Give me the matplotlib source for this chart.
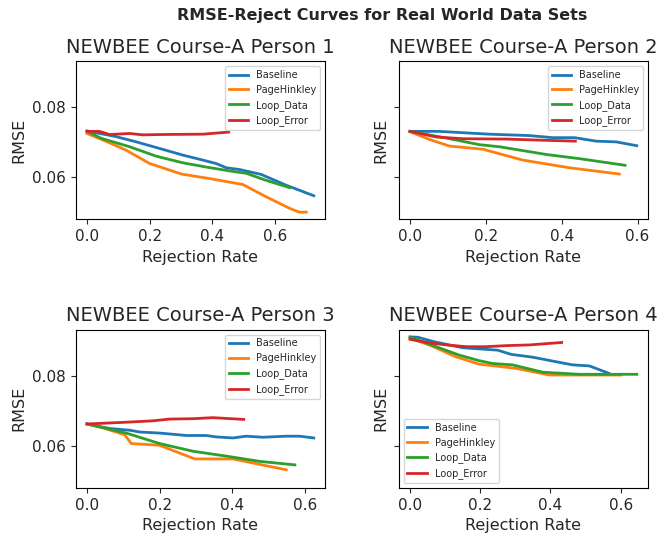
import matplotlib
matplotlib.use("Agg")
import matplotlib.pyplot as plt

# Data
titles = ["NEWBEE Course-A Person 1", "NEWBEE Course-A Person 2",
          "NEWBEE Course-A Person 3", "NEWBEE Course-A Person 4"]
methods = ["Baseline", "PageHinkley", "Loop_Data", "Loop_Error"]

# Person 1
p1_base_x = [0.0, 0.088, 0.157, 0.232, 0.306, 0.369, 0.412, 0.444, 0.486, 0.555, 0.635, 0.723]
p1_base_y = [0.0732, 0.0717, 0.0701, 0.0682, 0.0663, 0.0649, 0.0639, 0.0627, 0.0622, 0.0608, 0.0577, 0.0547]
p1_ph_x = [0.0, 0.046, 0.083, 0.125, 0.200, 0.301, 0.391, 0.497, 0.571, 0.646, 0.677, 0.699]
p1_ph_y = [0.0725, 0.0708, 0.0694, 0.0677, 0.0639, 0.0609, 0.0596, 0.0579, 0.0544, 0.0511, 0.0500, 0.0500]
p1_ld_x = [0.0, 0.046, 0.136, 0.221, 0.306, 0.380, 0.454, 0.508, 0.571, 0.646]
p1_ld_y = [0.0731, 0.0711, 0.0687, 0.0660, 0.0641, 0.0629, 0.0618, 0.0611, 0.0591, 0.0570]
p1_le_x = [0.0, 0.040, 0.072, 0.136, 0.178, 0.232, 0.369, 0.452]
p1_le_y = [0.0731, 0.0731, 0.0722, 0.0725, 0.0721, 0.0722, 0.0723, 0.0729]

# Person 2
p2_base_x = [0.0, 0.077, 0.209, 0.315, 0.376, 0.434, 0.491, 0.544, 0.598]
p2_base_y = [0.0731, 0.0731, 0.0723, 0.0719, 0.0713, 0.0713, 0.0703, 0.0701, 0.0690]
p2_ph_x = [0.0, 0.051, 0.104, 0.192, 0.297, 0.420, 0.552]
p2_ph_y = [0.0730, 0.0708, 0.0689, 0.0680, 0.0649, 0.0627, 0.0609]
p2_ld_x = [0.0, 0.095, 0.183, 0.236, 0.359, 0.447, 0.567]
p2_ld_y = [0.0731, 0.0712, 0.0693, 0.0687, 0.0665, 0.0653, 0.0634]
p2_le_x = [0.0, 0.069, 0.139, 0.253, 0.341, 0.436]
p2_le_y = [0.0731, 0.0715, 0.0710, 0.0709, 0.0706, 0.0703]

# Person 3
p3_base_x = [0.0, 0.063, 0.118, 0.145, 0.200, 0.274, 0.329, 0.356, 0.402, 0.439, 0.485, 0.549, 0.586, 0.625]
p3_base_y = [0.0662, 0.0649, 0.0644, 0.0639, 0.0636, 0.0629, 0.0629, 0.0625, 0.0622, 0.0627, 0.0624, 0.0627, 0.0627, 0.0622]
p3_ph_x = [0.0, 0.044, 0.104, 0.122, 0.200, 0.297, 0.402, 0.549]
p3_ph_y = [0.0662, 0.0651, 0.0631, 0.0606, 0.0601, 0.0562, 0.0562, 0.0531]
p3_ld_x = [0.0, 0.053, 0.108, 0.200, 0.292, 0.384, 0.476, 0.573]
p3_ld_y = [0.0662, 0.0649, 0.0636, 0.0606, 0.0584, 0.0570, 0.0555, 0.0545]
p3_le_x = [0.0, 0.044, 0.108, 0.182, 0.228, 0.292, 0.347, 0.432]
p3_le_y = [0.0662, 0.0664, 0.0667, 0.0671, 0.0676, 0.0677, 0.0680, 0.0675]

# Person 4
p4_base_x = [0.0, 0.022, 0.069, 0.150, 0.250, 0.288, 0.349, 0.416, 0.463, 0.511, 0.566]
p4_base_y = [0.0911, 0.0910, 0.0897, 0.0880, 0.0873, 0.0861, 0.0853, 0.0840, 0.0831, 0.0828, 0.0807]
p4_ph_x = [0.0, 0.055, 0.131, 0.197, 0.302, 0.397, 0.501, 0.601]
p4_ph_y = [0.0907, 0.0888, 0.0854, 0.0833, 0.0821, 0.0802, 0.0802, 0.0802]
p4_ld_x = [0.0, 0.074, 0.140, 0.197, 0.235, 0.292, 0.378, 0.482, 0.646]
p4_ld_y = [0.0910, 0.0883, 0.0859, 0.0843, 0.0835, 0.0831, 0.0810, 0.0804, 0.0804]
p4_le_x = [0.0, 0.055, 0.103, 0.160, 0.217, 0.274, 0.340, 0.432]
p4_le_y = [0.0904, 0.0894, 0.0888, 0.0883, 0.0883, 0.0886, 0.0888, 0.0895]

curves = [
    [(p1_base_x, p1_base_y), (p1_ph_x, p1_ph_y), (p1_ld_x, p1_ld_y), (p1_le_x, p1_le_y)],
    [(p2_base_x, p2_base_y), (p2_ph_x, p2_ph_y), (p2_ld_x, p2_ld_y), (p2_le_x, p2_le_y)],
    [(p3_base_x, p3_base_y), (p3_ph_x, p3_ph_y), (p3_ld_x, p3_ld_y), (p3_le_x, p3_le_y)],
    [(p4_base_x, p4_base_y), (p4_ph_x, p4_ph_y), (p4_ld_x, p4_ld_y), (p4_le_x, p4_le_y)],
]
legend_locs = ["upper right", "upper right", "upper right", "lower left"]

plt.rcParams['text.color'] = '#262626'
plt.rcParams['axes.labelcolor'] = '#262626'
plt.rcParams['xtick.color'] = '#262626'
plt.rcParams['ytick.color'] = '#262626'

fig, axes = plt.subplots(2, 2, figsize=(6.58, 5.42), dpi=100, sharey=True)
fig.subplots_adjust(left=0.115, right=0.985, bottom=0.100, top=0.887,
                    wspace=0.295, hspace=0.698)

for ax, title, series, loc in zip(axes.flat, titles, curves, legend_locs):
    for name, (xs, ys) in zip(methods, series):
        ax.plot(xs, ys, lw=2, label=name)
    ax.set_title(title, fontsize=14)
    ax.set_xlabel('Rejection Rate', fontsize=11.5)
    ax.set_ylabel('RMSE', fontsize=11.5)
    ax.set_xticks([0.0, 0.2, 0.4, 0.6])
    ax.set_yticks([0.06, 0.08])
    ax.tick_params(labelsize=11)
    ax.legend(loc=loc, fontsize=7)

fig.suptitle('RMSE-Reject Curves for Real World Data Sets', fontsize=11.5,
             fontweight='bold', x=0.581, y=0.985)

plt.savefig('out.png', dpi=100)
